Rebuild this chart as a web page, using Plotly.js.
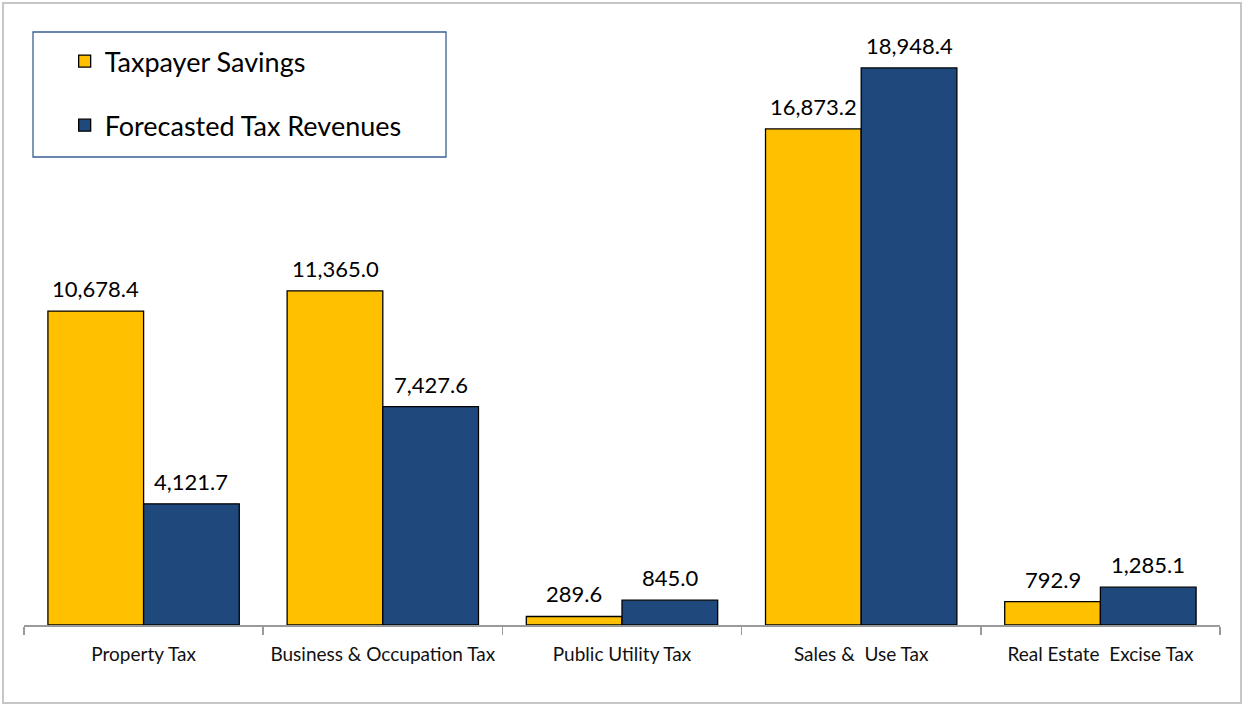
<!DOCTYPE html>
<html>
<head>
<meta charset="utf-8">
<script src="https://cdn.plot.ly/plotly-3.0.1.min.js"></script>
<style>
html,body{margin:0;padding:0;background:#fff;}
#wrap{position:relative;width:1246px;height:708px;}
#chart{position:absolute;left:0;top:0;width:1246px;height:708px;}
#frame{position:absolute;left:2px;top:2px;width:1240px;height:702px;border:2px solid #c6c6c6;pointer-events:none;box-sizing:border-box;}
</style>
</head>
<body>
<div id="wrap"><div id="chart"></div><div id="frame"></div></div>
<script>
const categories = ["Property Tax", "Business & Occupation Tax", "Public Utility Tax", "Sales &\u00a0 Use Tax", "Real Estate\u00a0 Excise Tax"];
const taxpayerSavings = [10678.4, 11365.0, 289.6, 16873.2, 792.9];
const forecastedRevenues = [4121.7, 7427.6, 845.0, 18948.4, 1285.1];
const seriesNames = ["Taxpayer Savings", "Forecasted Tax Revenues"];

const FONT = "Lato, 'Open Sans', sans-serif";
const yellow = "#FFC000";
const blue = "#1F497D";

const traces = [
  {type:"bar", name: seriesNames[0], x: categories, y: taxpayerSavings,
   marker:{color: yellow, line:{color:"#000", width:1.3}}, legendgroup:"a", hoverinfo:"y"},
  {type:"bar", name: seriesNames[1], x: categories, y: forecastedRevenues,
   marker:{color: blue, line:{color:"#000", width:1.3}}, legendgroup:"b", hoverinfo:"y"}
];

function fmt(v){ return v.toLocaleString("en-US",{minimumFractionDigits:1, maximumFractionDigits:1}); }

const annotations = [];
const halfBar = 47.8;
[taxpayerSavings, forecastedRevenues].forEach((arr, si) => {
  arr.forEach((v, i) => {
    annotations.push({x: categories[i], y: v, xref:"x", yref:"y", text: fmt(v),
      showarrow:false, yanchor:"bottom", yshift: 7, xshift: si === 0 ? -halfBar : halfBar,
      font:{family: FONT, size: 22, color:"#000"}});
  });
});

const layout = {
  width: 1246, height: 708,
  margin: {l:24, r:26, t:37, b:83},
  paper_bgcolor:"#fff", plot_bgcolor:"#fff",
  barmode:"group", bargap:0.2, bargroupgap:0,
  showlegend:true,
  legend:{x:0.034, y:1.0, xanchor:"left", yanchor:"top", bgcolor:"rgba(0,0,0,0)", borderwidth:0,
    font:{family: FONT, size:27, color:"#000"}, tracegroupgap:26, traceorder:"grouped"},
  xaxis:{type:"category", showline:true, linecolor:"#9a9a9a", linewidth:1.5,
    ticks:"outside", tickson:"boundaries", ticklen:8, tickcolor:"#9a9a9a", tickwidth:1.5,
    ticklabelstandoff:12, tickfont:{family: FONT, size:19, color:"#111"}, showgrid:false, zeroline:false},
  yaxis:{range:[0,20000], visible:false, showgrid:false, zeroline:false},
  annotations: annotations,
  shapes:[{type:"rect", xref:"paper", yref:"paper",
    x0:(33-24)/1196, x1:(446-24)/1196, y0:(625-157)/588, y1:(625-32)/588,
    line:{color:"#3a5f93", width:1.3}, fillcolor:"rgba(0,0,0,0)", layer:"below"}]
};

Plotly.newPlot("chart", traces, layout, {displayModeBar:false, staticPlot:true});
</script>
</body>
</html>
